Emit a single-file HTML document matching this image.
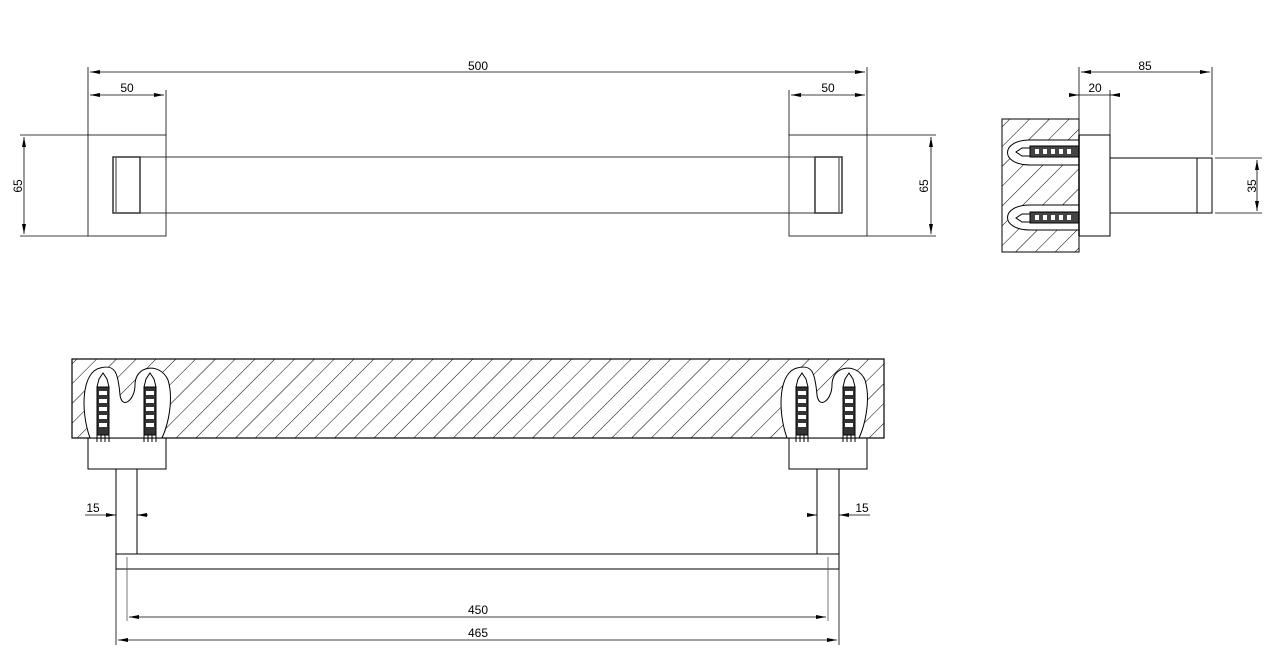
<!DOCTYPE html>
<html><head><meta charset="utf-8"><style>html,body{margin:0;padding:0;background:#fff}svg{display:block}</style></head><body>
<svg width="1280" height="652" viewBox="0 0 1280 652" xmlns="http://www.w3.org/2000/svg" font-family="Liberation Sans, sans-serif" font-size="12" fill="none" stroke="#000" stroke-width="1">
<defs>
<pattern id="h" width="14" height="14" patternUnits="userSpaceOnUse" patternTransform="rotate(45)">
<line x1="0" y1="0" x2="0" y2="14" stroke="#000" stroke-width="1"/>
</pattern>
<marker id="a" markerWidth="10" markerHeight="6" refX="10" refY="3" orient="auto" markerUnits="userSpaceOnUse"><path d="M0,1 L10,3 L0,5 Z" fill="#000" stroke="none"/></marker>
<marker id="b" markerWidth="10" markerHeight="6" refX="0" refY="3" orient="auto" markerUnits="userSpaceOnUse"><path d="M10,1 L0,3 L10,5 Z" fill="#000" stroke="none"/></marker>
<g id="anc">
<path d="M-6,10 L-4,2 L0,-4 L4,2 L6,10 Z" fill="#fff" stroke="#000"/>
<rect x="-6" y="10" width="12" height="48" fill="#333" stroke="#000"/>
<g fill="#fff" stroke="none"><rect x="-4" y="14" width="8" height="4"/><rect x="-4" y="22" width="8" height="4"/><rect x="-4" y="30" width="8" height="4"/><rect x="-4" y="38" width="8" height="4"/><rect x="-4" y="46" width="8" height="4"/></g>
<path d="M-6,58 L-6,65 M6,58 L6,65 M-2,58 L-2,65 M2,58 L2,65" stroke="#000"/>
</g>
</defs>

<!-- TOP FRONT VIEW -->
<g stroke="#333">
<rect x="88" y="135" width="78" height="101"/>
<rect x="789" y="135" width="78" height="101"/>
<line x1="140" y1="157" x2="815" y2="157"/>
<line x1="140" y1="213" x2="815" y2="213"/>
<rect x="113" y="157" width="27" height="56" stroke-width="1.5"/>
<line x1="116" y1="158" x2="116" y2="212"/>
<rect x="815" y="157" width="27" height="56" stroke-width="1.5"/>
<line x1="839" y1="158" x2="839" y2="212"/>
</g>
<g stroke="#000" stroke-width="0.8">
<line x1="88" y1="67" x2="88" y2="135"/><line x1="867" y1="67" x2="867" y2="135"/>
<line x1="166" y1="90" x2="166" y2="135"/><line x1="789" y1="90" x2="789" y2="135"/>
<line x1="90" y1="72" x2="865" y2="72" marker-start="url(#b)" marker-end="url(#a)"/>
<line x1="90" y1="95" x2="164" y2="95" marker-start="url(#b)" marker-end="url(#a)"/>
<line x1="791" y1="95" x2="865" y2="95" marker-start="url(#b)" marker-end="url(#a)"/>
<line x1="20" y1="135" x2="88" y2="135"/><line x1="20" y1="236" x2="88" y2="236"/>
<line x1="24" y1="137" x2="24" y2="234" marker-start="url(#b)" marker-end="url(#a)"/>
<line x1="867" y1="135" x2="936" y2="135"/><line x1="867" y1="236" x2="936" y2="236"/>
<line x1="931" y1="137" x2="931" y2="234" marker-start="url(#b)" marker-end="url(#a)"/>
</g>
<g fill="#000" stroke="none" text-anchor="middle">
<text x="478" y="70">500</text><text x="127" y="92">50</text><text x="828" y="92">50</text>
<text transform="translate(22,186) rotate(-90)">65</text>
<text transform="translate(928,186) rotate(-90)">65</text>
</g>

<!-- SIDE VIEW -->
<rect x="1002" y="119" width="77" height="133" fill="url(#h)" stroke="#000"/>
<g>
<path d="M1079,140 L1030,140 C1000,140 1000,165 1030,165 L1079,165 Z" fill="#fff" stroke="#000"/>
<path d="M1079,205 L1030,205 C1000,205 1000,230 1030,230 L1079,230 Z" fill="#fff" stroke="#000"/>
<path d="M1016,152 L1022,148 L1030,148 L1030,156 L1022,156 Z" fill="#fff" stroke="#000"/>
<rect x="1030" y="146" width="49" height="11" fill="#444" stroke="#000"/>
<path d="M1016,218 L1022,214 L1030,214 L1030,222 L1022,222 Z" fill="#fff" stroke="#000"/>
<rect x="1030" y="212" width="49" height="11" fill="#444" stroke="#000"/>
<g fill="#fff" stroke="none"><rect x="1035" y="149" width="4" height="5"/><rect x="1043" y="149" width="4" height="5"/><rect x="1051" y="149" width="4" height="5"/><rect x="1059" y="149" width="4" height="5"/><rect x="1067" y="149" width="4" height="5"/>
<rect x="1035" y="215" width="4" height="5"/><rect x="1043" y="215" width="4" height="5"/><rect x="1051" y="215" width="4" height="5"/><rect x="1059" y="215" width="4" height="5"/><rect x="1067" y="215" width="4" height="5"/></g>
</g>
<rect x="1079" y="135" width="31" height="101" stroke="#000"/>
<line x1="1079" y1="135" x2="1079" y2="236" stroke="#000" stroke-width="1.5"/>
<rect x="1110" y="158" width="102" height="55" stroke="#000"/>
<line x1="1197" y1="158" x2="1197" y2="213"/>
<g stroke-width="0.8">
<line x1="1079" y1="67" x2="1079" y2="135"/><line x1="1212" y1="67" x2="1212" y2="155"/>
<line x1="1110" y1="90" x2="1110" y2="135"/>
<line x1="1081" y1="72" x2="1210" y2="72" marker-start="url(#b)" marker-end="url(#a)"/>
<line x1="1069" y1="95" x2="1079" y2="95" marker-end="url(#a)"/>
<line x1="1120" y1="95" x2="1110" y2="95" marker-end="url(#a)"/>
<line x1="1079" y1="95" x2="1110" y2="95"/>
<line x1="1215" y1="158" x2="1262" y2="158"/><line x1="1215" y1="213" x2="1262" y2="213"/>
<line x1="1257" y1="160" x2="1257" y2="211" marker-start="url(#b)" marker-end="url(#a)"/>
</g>
<g fill="#000" stroke="none" text-anchor="middle">
<text x="1145" y="70">85</text><text x="1095" y="92">20</text>
<text transform="translate(1256,186) rotate(-90)">35</text>
</g>

<!-- BOTTOM VIEW -->
<rect x="72" y="359" width="812" height="79" fill="url(#h)" stroke="#000" stroke-width="1.2"/>
<path d="M90,438 C80,410 82,372 100,368 C115,364 118,372 120,395 C122,410 135,400 135,385 C135,365 160,362 168,380 C174,400 168,425 162,438 Z" fill="#fff" stroke="#000"/>
<path d="M787,438 C777,410 779,372 797,368 C812,364 815,372 817,395 C819,410 832,400 832,385 C832,365 857,362 865,380 C871,400 865,425 859,438 Z" fill="#fff" stroke="#000"/>
<use href="#anc" transform="translate(103,377)"/>
<use href="#anc" transform="translate(150,377)"/>
<use href="#anc" transform="translate(802,377)"/>
<use href="#anc" transform="translate(849,377)"/>
<rect x="88" y="438" width="78" height="31"/>
<rect x="789" y="438" width="78" height="31"/>
<line x1="116" y1="469" x2="116" y2="554"/><line x1="137" y1="469" x2="137" y2="554"/>
<line x1="817" y1="469" x2="817" y2="554"/><line x1="839" y1="469" x2="839" y2="554"/>
<rect x="116" y="554" width="723" height="15"/>
<g stroke-width="0.8">
<line x1="85" y1="515" x2="116" y2="515" marker-end="url(#a)"/>
<line x1="148" y1="515" x2="137" y2="515" marker-end="url(#a)"/>
<line x1="807" y1="515" x2="817" y2="515" marker-end="url(#a)"/>
<line x1="870" y1="515" x2="839" y2="515" marker-end="url(#a)"/>
<line x1="116" y1="569" x2="116" y2="645"/><line x1="839" y1="569" x2="839" y2="645"/>
<line x1="127" y1="557" x2="127" y2="621" stroke="#555"/><line x1="828" y1="557" x2="828" y2="621" stroke="#555"/>
<line x1="129" y1="617" x2="826" y2="617" marker-start="url(#b)" marker-end="url(#a)"/>
<line x1="118" y1="640" x2="837" y2="640" marker-start="url(#b)" marker-end="url(#a)"/>
</g>
<g fill="#000" stroke="none" text-anchor="middle">
<text x="93" y="512">15</text><text x="862" y="512">15</text>
<text x="478" y="614">450</text><text x="478" y="637">465</text>
</g>
</svg>
</body></html>
